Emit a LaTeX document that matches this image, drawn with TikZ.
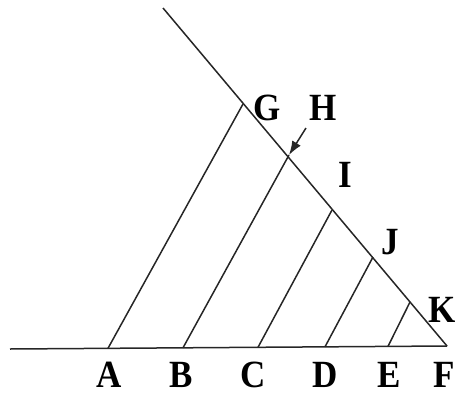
\documentclass[tikz,border=0pt]{standalone}
\usepackage{fontspec}
\setmainfont{Liberation Serif}
\usetikzlibrary{arrows.meta}
\newcommand{\tallchar}[1]{\scalebox{1}[1.1]{#1}}
\begin{document}
\begin{tikzpicture}[x=1pt,y=-1pt,
  ln/.style={line width=1.5pt,draw=black!85},
  lbl/.style={anchor=base,inner sep=0pt,font=\fontsize{35}{40}\selectfont\bfseries}]
\useasboundingbox (0,0) rectangle (455,394);
% baseline and diagonal
\coordinate (L) at (10,349);
\coordinate (F) at (447,346);
\coordinate (T) at (163,8);
\coordinate (A) at (108,348.3);
\coordinate (B) at (183,347.8);
\coordinate (C) at (258,347.3);
\coordinate (D) at (325,346.8);
\coordinate (E) at (388,346.4);
\coordinate (G) at (243,104);
\coordinate (H) at (289,155);
\coordinate (I) at (332,210);
\coordinate (J) at (373,257);
\coordinate (K) at (410,302);
\coordinate (Hs) at (306,128);
\draw[ln] (L) -- (F);
\draw[ln] (T) -- (F);
\draw[ln] (A) -- (G);
\draw[ln] (B) -- (H);
\draw[ln] (C) -- (I);
\draw[ln] (D) -- (J);
\draw[ln] (E) -- (K);
\draw[ln,-{Latex[length=14pt,width=10pt]}] (Hs) -- (H);
% labels
\node[lbl] (lA) at (109,387) {\tallchar{A}};
\node[lbl] (lB) at (181,387) {\tallchar{B}};
\node[lbl] (lC) at (253,387) {\tallchar{C}};
\node[lbl] (lD) at (325,387) {\tallchar{D}};
\node[lbl] (lE) at (389,387) {\tallchar{E}};
\node[lbl] (lF) at (444,387) {\tallchar{F}};
\node[lbl] (lG) at (267,120) {\tallchar{G}};
\node[lbl] (lH) at (323,120) {\tallchar{H}};
\node[lbl] (lI) at (345,187) {\tallchar{I}};
\node[lbl] (lJ) at (390,254) {\tallchar{J}};
\node[lbl] (lK) at (442,322) {\tallchar{K}};
\end{tikzpicture}
\end{document}
